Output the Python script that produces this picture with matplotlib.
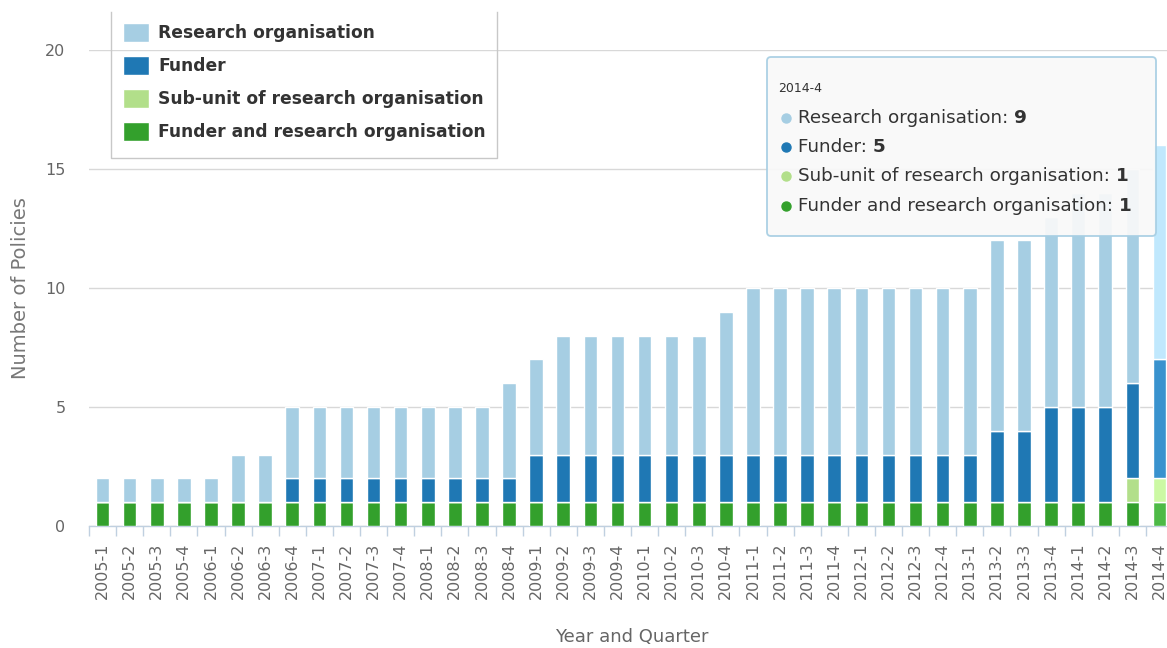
import matplotlib
matplotlib.use("Agg")
import matplotlib.pyplot as plt
from matplotlib.transforms import Affine2D
from matplotlib.patches import FancyBboxPatch, Patch
from matplotlib.lines import Line2D
from matplotlib.text import Annotation
import numpy as np

# --- data -------------------------------------------------------------
years = [2005, 2006, 2007, 2008, 2009, 2010, 2011, 2012, 2013, 2014]
quarters = [f"{y}-{q}" for y in years for q in (1, 2, 3, 4)]

research_org = [1, 1, 1, 1, 1, 2, 2, 3,
                3, 3, 3, 3, 3, 3, 3, 4,
                4, 5, 5, 5, 5, 5, 5, 6,
                7, 7, 7, 7, 7, 7, 7, 7,
                7, 8, 8, 8, 9, 9, 9, 9]
funder = [0, 0, 0, 0, 0, 0, 0, 1,
          1, 1, 1, 1, 1, 1, 1, 1,
          2, 2, 2, 2, 2, 2, 2, 2,
          2, 2, 2, 2, 2, 2, 2, 2,
          2, 3, 3, 4, 4, 4, 4, 5]
sub_unit = [0, 0, 0, 0, 0, 0, 0, 0,
            0, 0, 0, 0, 0, 0, 0, 0,
            0, 0, 0, 0, 0, 0, 0, 0,
            0, 0, 0, 0, 0, 0, 0, 0,
            0, 0, 0, 0, 0, 0, 1, 1]
funder_and_ro = [1, 1, 1, 1, 1, 1, 1, 1,
                 1, 1, 1, 1, 1, 1, 1, 1,
                 1, 1, 1, 1, 1, 1, 1, 1,
                 1, 1, 1, 1, 1, 1, 1, 1,
                 1, 1, 1, 1, 1, 1, 1, 1]

series_names = ["Research organisation", "Funder",
                "Sub-unit of research organisation",
                "Funder and research organisation"]
series_colors = ["#a6cee3", "#1f78b4", "#b2df8a", "#33a02c"]
hover_colors = ["#c0e8fd", "#3992ce", "#ccf9a4", "#4dba46"]
hover_idx = 39  # the bar under the mouse in the screenshot

# --- figure -----------------------------------------------------------
W, H = 1167, 648
fig = plt.figure(figsize=(W / 100, H / 100), dpi=100)
# pixel coords (origin top-left) -> figure
pxt = Affine2D().scale(1 / W, -1 / H).translate(0, 1) + fig.transFigure

ax_left, ax_top, ax_bottom = 89, 50, 526
band = 27.1
ax = fig.add_axes([ax_left / W, (H - ax_bottom) / H,
                   len(quarters) * band / W, (ax_bottom - ax_top) / H])

x = np.arange(len(quarters))
stack = [funder_and_ro, sub_unit, funder, research_org]
stack_idx = [3, 2, 1, 0]
bottom = np.zeros(len(quarters))
for vals, si in zip(stack, stack_idx):
    cols = [hover_colors[si] if i == hover_idx else series_colors[si]
            for i in range(len(quarters))]
    ax.bar(x, vals, width=0.5, bottom=bottom, color=cols,
           edgecolor="white", linewidth=1, zorder=3)
    bottom += np.array(vals)

ax.set_xlim(-0.5, len(quarters) - 0.5)
ax.set_ylim(0, 20)
ax.set_yticks([0, 5, 10, 15, 20])
ax.yaxis.grid(True, color="#d8d8d8", linewidth=1, zorder=0)
ax.set_axisbelow(True)
for s in ("top", "right", "left"):
    ax.spines[s].set_visible(False)
ax.spines["bottom"].set_color("#c0d0e0")
ax.spines["bottom"].set_linewidth(1)

ax.set_xticks(x)
ax.set_xticklabels(quarters, rotation=90, va="top", ha="center")
ax.set_xticks(np.arange(len(quarters) + 1) - 0.5, minor=True)
ax.tick_params(axis="x", which="major", length=0, pad=12,
               labelsize=11.5, labelcolor="#666666")
ax.tick_params(axis="x", which="minor", length=7.2, width=1,
               color="#c0d0e0")
ax.tick_params(axis="y", length=0, pad=17, labelsize=11.5,
               labelcolor="#666666")

fig.text(21, 288, "Number of Policies", transform=pxt, rotation=90,
         ha="center", va="center", fontsize=14, color="#777777")
fig.text(632, 637, "Year and Quarter", transform=pxt,
         ha="center", va="center", fontsize=13, color="#666666")

# --- legend -----------------------------------------------------------
handles = [Patch(facecolor=c, edgecolor="white") for c in series_colors]
leg = fig.legend(handles, series_names, loc="upper left",
                 bbox_to_anchor=(123 / W, 1 - 23 / H), frameon=False,
                 borderpad=0, borderaxespad=0, fontsize=12.3,
                 handlelength=1.55, handleheight=1.3,
                 labelspacing=0.82, handletextpad=0.5)
for t in leg.get_texts():
    t.set_fontweight("bold")
    t.set_color("#333333")
fig.add_artist(Line2D([111, 111, 497, 497], [12, 158, 158, 12],
                      transform=pxt, color="#c8c8c8", linewidth=1))

# --- tooltip ----------------------------------------------------------
tip = FancyBboxPatch((767, 57), 389, 179,
                     boxstyle="round,pad=0,rounding_size=4",
                     transform=pxt, facecolor="#f9f9f9", alpha=0.93,
                     edgecolor="#a6cee3", linewidth=1.3, zorder=6)
fig.add_artist(tip)
fig.text(778, 89, quarters[hover_idx], transform=pxt, fontsize=9,
         color="#333333", ha="left", va="center", zorder=7)

tip_vals = [research_org[hover_idx], funder[hover_idx],
            sub_unit[hover_idx], funder_and_ro[hover_idx]]
for k, (name, col, v) in enumerate(zip(series_names, series_colors,
                                       tip_vals)):
    yy = 118 + k * 29.2
    fig.add_artist(Line2D([786], [yy], transform=pxt, marker="o",
                          markersize=6.5, color=col, linestyle="none",
                          zorder=7))
    lab = fig.text(798, yy, name + ": ", transform=pxt, fontsize=13.2,
                   color="#333333", ha="left", va="center", zorder=7)
    num = Annotation(str(v), xy=(1, 0), xycoords=lab, fontsize=13.2,
                     fontweight="bold", color="#333333", ha="left",
                     va="bottom", zorder=7)
    fig.add_artist(num)

fig.savefig("out.png", dpi=100)
